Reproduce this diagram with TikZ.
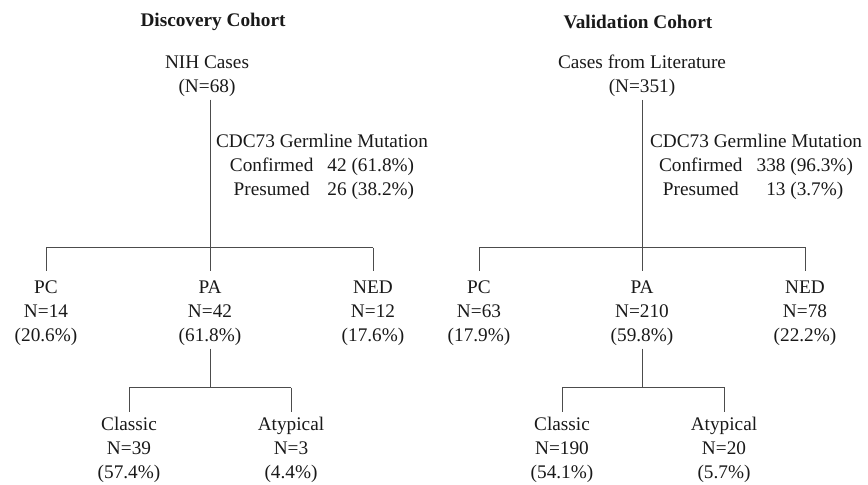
\documentclass[tikz,border=0pt]{standalone}
\usepackage{fontspec}
\setmainfont{Liberation Serif}
\usetikzlibrary{positioning, calc}

\begin{document}
\begin{tikzpicture}[
    x=0.025cm, y=-0.025cm,
    % --- BASE STYLES ---
    txt/.style={align=center, inner sep=2pt, text=black!90, font=\fontsize{13.7}{17.07}\selectfont},
    title/.style={txt, font=\fontsize{13.7}{17.07}\selectfont\bfseries},
    mutation/.style={txt, anchor=west},
    line/.style={draw=black!70, line width=0.7pt},
    drop/.style={line, shorten >=#1},
    drop/.default=4.5pt
]
\useasboundingbox (0,0) rectangle (868,485);

% ==========================================
% LEFT SIDE (DISCOVERY COHORT)
% ==========================================
\node[title] (dtitle) at (213,22) {Discovery Cohort};
\node[txt] (droot) at (207,76) {NIH Cases\\(N=68)};
\node[mutation] (dmut) at (213,168) {CDC73 Germline Mutation\\
  \begin{tabular}[t]{@{}c@{\hspace{10pt}}c@{}}Confirmed & 42 (61.8\%)\\ Presumed & 26 (38.2\%)\end{tabular}};

\node[txt] (dpc) at (46,313) {PC\\N=14\\(20.6\%)};
\node[txt] (dpa) at (210,313) {PA\\N=42\\(61.8\%)};
\node[txt] (dned) at (373,313) {NED\\N=12\\(17.6\%)};

\node[txt] (dclassic) at (129,450) {Classic\\N=39\\(57.4\%)};
\node[txt] (datypical) at (291,450) {Atypical\\N=3\\(4.4\%)};

% Tree for the discovery cohort
\coordinate (dbar) at (210,247.5);
\coordinate (dpabar) at (210,387.5);
\draw[line] (droot.south -| dbar) -- (dbar);
\draw[line] (dbar -| dpc) -- (dbar -| dned);
\foreach \n in {dpc, dpa, dned} {
    \draw[drop] (dbar -| \n) -- (\n.north);
}
\draw[line] (dpa.south) -- (dpabar);
\draw[line] (dpabar -| dclassic) -- (dpabar -| datypical);
\foreach \n in {dclassic, datypical} {
    \draw[drop=1.6pt] (dpabar -| \n) -- (\n.north);
}

% ==========================================
% RIGHT SIDE (VALIDATION COHORT)
% ==========================================
\node[title] (vtitle) at (638,22) {Validation Cohort};
\node[txt] (vroot) at (642,76) {Cases from Literature\\(N=351)};
\node[mutation] (vmut) at (647,168) {CDC73 Germline Mutation\\
  \begin{tabular}[t]{@{}c@{\hspace{10pt}}c@{}}Confirmed & 338 (96.3\%)\\ Presumed & 13 (3.7\%)\end{tabular}};

\node[txt] (vpc) at (479,313) {PC\\N=63\\(17.9\%)};
\node[txt] (vpa) at (642,313) {PA\\N=210\\(59.8\%)};
\node[txt] (vned) at (805,313) {NED\\N=78\\(22.2\%)};

\node[txt] (vclassic) at (562,450) {Classic\\N=190\\(54.1\%)};
\node[txt] (vatypical) at (724,450) {Atypical\\N=20\\(5.7\%)};

% Tree for the validation cohort
\coordinate (vbar) at (642,247);
\coordinate (vpabar) at (642,387);
\draw[line] (vroot.south -| vbar) -- (vbar);
\draw[line] (vbar -| vpc) -- (vbar -| vned);
\foreach \n in {vpc, vpa, vned} {
    \draw[drop] (vbar -| \n) -- (\n.north);
}
\draw[line] (vpa.south) -- (vpabar);
\draw[line] (vpabar -| vclassic) -- (vpabar -| vatypical);
\foreach \n in {vclassic, vatypical} {
    \draw[drop=1.6pt] (vpabar -| \n) -- (\n.north);
}

\end{tikzpicture}
\end{document}
